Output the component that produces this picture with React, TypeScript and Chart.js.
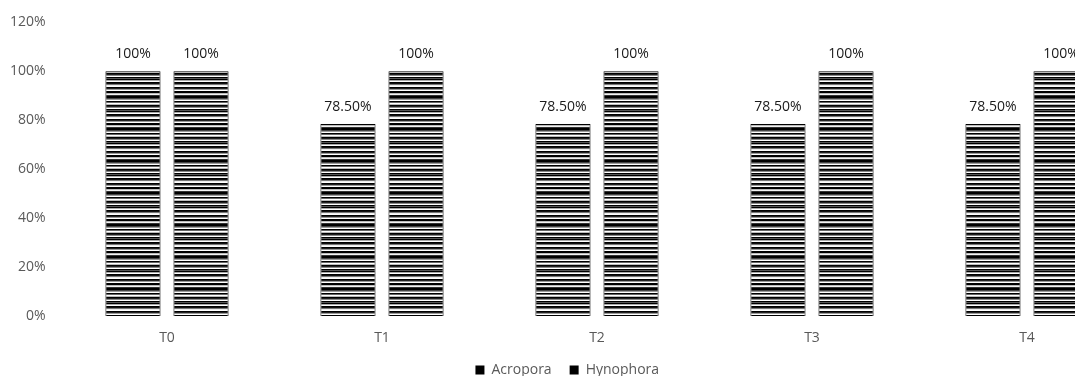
import React, { useEffect, useRef } from "react";
import { Chart, registerables } from "chart.js";

Chart.register(...registerables);

const categories = ["T0", "T1", "T2", "T3", "T4"];
const acroporaValues = [1, 0.785, 0.785, 0.785, 0.785];
const hynophoraValues = [1, 1, 1, 1, 1];
const acroporaLabels = ["100%", "78.50%", "78.50%", "78.50%", "78.50%"];
const hynophoraLabels = ["100%", "100%", "100%", "100%", "100%"];
const seriesNames = ["Acropora", "Hynophora"];
const yMin = 0;
const yMax = 1.2;
const yStep = 0.2;

const stripeRows = [
  "#000", "#000", "#444", "#9a9a9a", "#fff", "#000", "#666", "#fff",
  "#bbb", "#000", "#222", "#888", "#fff", "#000", "#555", "#000",
  "#aaa", "#fff", "#000", "#111", "#777", "#eee", "#fff", "#000",
  "#222", "#999", "#fff", "#000", "#000", "#bbb", "#f2f2f2", "#333",
];

function makePattern(): CanvasPattern | string {
  const tile = document.createElement("canvas");
  tile.width = 4;
  tile.height = stripeRows.length;
  const c = tile.getContext("2d");
  if (!c) return "#333";
  stripeRows.forEach((col, i) => {
    c.fillStyle = col;
    c.fillRect(0, i, 4, 1);
  });
  const p = c.createPattern(tile, "repeat");
  return p || "#333";
}

const FONT = "'Open Sans', 'Liberation Sans', sans-serif";

const dataLabelPlugin = {
  id: "dataLabels",
  afterDatasetsDraw(chart: any) {
    const ctx = chart.ctx;
    const labelSets = [acroporaLabels, hynophoraLabels];
    ctx.save();
    ctx.font = `14px ${FONT}`;
    ctx.fillStyle = "#1a1a1a";
    ctx.textAlign = "center";
    ctx.textBaseline = "middle";
    chart.data.datasets.forEach((_: any, di: number) => {
      const meta = chart.getDatasetMeta(di);
      meta.data.forEach((el: any, i: number) => {
        ctx.fillText(labelSets[di][i], el.x, el.y - 17);
      });
    });
    ctx.restore();
  },
};

export default function App() {
  const ref = useRef<HTMLCanvasElement>(null);

  useEffect(() => {
    if (!ref.current) return;
    const pattern = makePattern();
    const chart = new Chart(ref.current, {
      type: "bar",
      data: {
        labels: categories,
        datasets: [
          {
            label: seriesNames[0],
            data: acroporaValues,
            backgroundColor: pattern as any,
            borderColor: "#000",
            borderWidth: 1,
            categoryPercentage: 0.633,
            barPercentage: 0.81,
          },
          {
            label: seriesNames[1],
            data: hynophoraValues,
            backgroundColor: pattern as any,
            borderColor: "#000",
            borderWidth: 1,
            categoryPercentage: 0.633,
            barPercentage: 0.81,
          },
        ],
      },
      options: {
        responsive: false,
        animation: false,
        layout: { padding: { top: 19, right: 5.5, bottom: -3, left: 0 } },
        scales: {
          x: {
            grid: { display: false, drawTicks: false },
            border: { display: false },
            ticks: { color: "#595959", font: { family: FONT, size: 14 }, padding: 13.5 },
            afterFit: (scale: any) => {
              scale.height = 29;
            },
          },
          y: {
            min: yMin,
            max: yMax,
            grid: { display: false, drawTicks: false },
            border: { display: false },
            ticks: {
              stepSize: yStep,
              color: "#595959",
              padding: 14,
              font: { family: FONT, size: 14 },
              callback: (v: any) => Math.round(Number(v) * 100) + "%",
            },
            afterFit: (scale: any) => {
              scale.width = 59.5;
            },
          },
        },
        plugins: {
          title: { display: false },
          tooltip: { enabled: false },
          legend: {
            position: "bottom",
            labels: {
              color: "#595959",
              font: { family: FONT, size: 14 },
              boxWidth: 9,
              boxHeight: 9,
              padding: 18,
              generateLabels: (chart: any) =>
                chart.data.datasets.map((ds: any, i: number) => ({
                  text: ds.label,
                  fillStyle: "#000",
                  strokeStyle: "#000",
                  lineWidth: 0,
                  fontColor: "#595959",
                  hidden: false,
                  datasetIndex: i,
                })),
            },
          },
        },
      },
      plugins: [dataLabelPlugin],
    });
    return () => chart.destroy();
  }, []);

  return (
    <div style={{ margin: -8, width: 1083, height: 384, overflow: "hidden", position: "relative", background: "#fff" }}>
      <div style={{ width: 1140, height: 384 }}>
        <canvas ref={ref} width={1140} height={384} style={{ display: "block" }} />
      </div>
    </div>
  );
}
